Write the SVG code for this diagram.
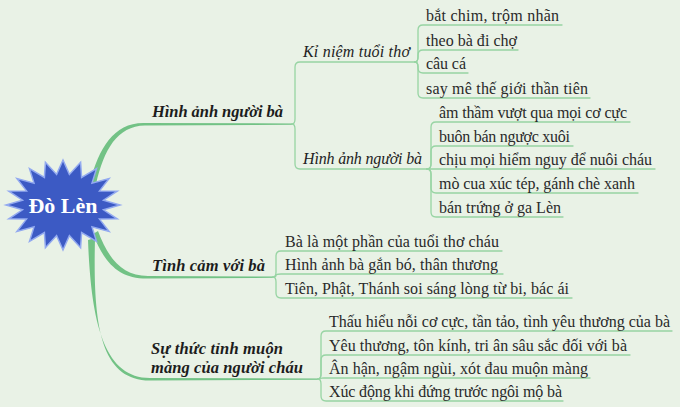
<svg xmlns="http://www.w3.org/2000/svg" width="680" height="407" viewBox="0 0 680 407">
<style>
.main{fill:#72c285;stroke:none}
.thin{fill:none;stroke:#97d4a3;stroke-width:1.3;stroke-linecap:round}
.l1{font-family:"Liberation Serif","Times New Roman",serif;font-size:16.5px;font-weight:bold;font-style:italic;fill:#1c1c1c}
.l2{font-family:"Liberation Serif","Times New Roman",serif;font-size:16px;font-style:italic;fill:#222}
.leaf{font-family:"Liberation Serif","Times New Roman",serif;font-size:16px;fill:#2a2a2a}
.ctext{font-family:"Liberation Serif","Times New Roman",serif;font-size:22px;font-weight:bold;fill:#ffffff}
</style>
<rect x="0" y="0" width="680" height="407" fill="#e9f2e6"/>
<g id="connectors">
<path class="main" d="M90,182 C99,148 114,122 145,123 L292,123.4 L292,124.7 L145,125.6 C117,126 104,150 96,184 Z"/>
<path class="main" d="M98,231 C108,258 122,276 148,276 L273,276.5 L273,277.8 L148,278.6 C118,279 104,262 93,234 Z"/>
<path class="main" d="M88,240 C91,320 103,378 150,378 L318,378.5 L318,379.8 L150,380.6 C99,380 93,322 95,238 Z"/>
<path class="thin" d="M292,124 Q295,124 295,119 L295,67 Q295,62 300,62 L415,62"/>
<path class="thin" d="M292,124 Q295,124 295,129 L295,164 Q295,169 300,169 L427,169"/>
<path class="thin" d="M415,62 Q418,62 418,57 L418,30 Q418,25 423,25 L562,25"/>
<path class="thin" d="M415,62 Q418,62 418,57 L418,55 Q418,50 423,50 L518,50"/>
<path class="thin" d="M415,62 Q418,62 418,67 L418,68 Q418,73 423,73 L468,73"/>
<path class="thin" d="M415,62 Q418,62 418,67 L418,93 Q418,98 423,98 L590,98"/>
<path class="thin" d="M427,169 Q431,169 431,164 L431,127 Q431,122 436,122 L630,122"/>
<path class="thin" d="M427,169 Q431,169 431,164 L431,151 Q431,146 436,146 L573,146"/>
<path class="thin" d="M427,169 L655,169"/>
<path class="thin" d="M427,169 Q431,169 431,174 L431,188 Q431,193 436,193 L638,193"/>
<path class="thin" d="M427,169 Q431,169 431,174 L431,212 Q431,217 436,217 L563,217"/>
<path class="thin" d="M273,277 Q276,277 276,272 L276,256 Q276,251 281,251 L502,251"/>
<path class="thin" d="M273,277 Q276,277 276,275.5 Q276,274 281,274 L503,274"/>
<path class="thin" d="M273,277 Q276,277 276,282 L276,293 Q276,298 281,298 L572,298"/>
<path class="thin" d="M318,379 Q321,379 321,374 L321,336 Q321,331 326,331 L672,331"/>
<path class="thin" d="M318,379 Q321,379 321,374 L321,360 Q321,355 326,355 L630,355"/>
<path class="thin" d="M318,379 Q321,379 321,378.5 Q321,378 324,378 L590,378"/>
<path class="thin" d="M318,379 Q321,379 321,384 L321,396 Q321,401 326,401 L563,401"/>
</g>
<g id="center">
<polygon points="63,160 69.4,174.4 80.6,162.2 81.6,177.4 96.5,168.6 92,183.1 109.1,178.5 99.5,190.9 117.2,191.1 103.5,200.2 120,205 103.5,209.8 117.2,218.9 99.5,219.1 109.1,231.5 92,226.9 96.5,241.4 81.6,232.6 80.6,247.8 69.4,235.6 63,250 56.6,235.6 45.4,247.8 44.4,232.6 29.5,241.4 34,226.9 16.9,231.5 26.5,219.1 8.8,218.9 22.5,209.8 6,205 22.5,200.2 8.8,191.1 26.5,190.9 16.9,178.5 34,183.1 29.5,168.6 44.4,177.4 45.4,162.2 56.6,174.4" fill="#3c5ac4" stroke="#93aaf0" stroke-width="1.5" stroke-linejoin="miter"/>
<text class="ctext" x="63" y="213" text-anchor="middle">Đò Lèn</text>
</g>
<g id="n-hinh-anh">
<text class="l1" x="152" y="117" textLength="131">Hình ảnh người bà</text>
</g>
<g id="n-ki-niem">
<text class="l2" x="303" y="57" textLength="107">Kỉ niệm tuổi thơ</text>
</g>
<g id="n-ki-niem-leaves">
<text class="leaf" x="426" y="21" textLength="133">bắt chim, trộm nhãn</text>
<text class="leaf" x="426" y="46" textLength="91">theo bà đi chợ</text>
<text class="leaf" x="426" y="69" textLength="40">câu cá</text>
<text class="leaf" x="426" y="94" textLength="162">say mê thế giới thần tiên</text>
</g>
<g id="n-hinh-anh-2">
<text class="l2" x="303" y="164" textLength="119">Hình ảnh người bà</text>
</g>
<g id="n-hinh-anh-2-leaves">
<text class="leaf" x="439" y="117.5" textLength="188">âm thầm vượt qua mọi cơ cực</text>
<text class="leaf" x="439" y="141.5" textLength="131">buôn bán ngược xuôi</text>
<text class="leaf" x="439" y="164.5" textLength="213">chịu mọi hiểm nguy để nuôi cháu</text>
<text class="leaf" x="439" y="188.5" textLength="196">mò cua xúc tép, gánh chè xanh</text>
<text class="leaf" x="439" y="212.5" textLength="122">bán trứng ở ga Lèn</text>
</g>
<g id="n-tinh-cam">
<text class="l1" x="152" y="271" textLength="113">Tình cảm với bà</text>
</g>
<g id="n-tinh-cam-leaves">
<text class="leaf" x="285" y="247" textLength="214">Bà là một phần của tuổi thơ cháu</text>
<text class="leaf" x="285" y="270" textLength="213">Hình ảnh bà gắn bó, thân thương</text>
<text class="leaf" x="285" y="294" textLength="284">Tiên, Phật, Thánh soi sáng lòng từ bi, bác ái</text>
</g>
<g id="n-su-thuc-tinh">
<text class="l1" x="151" y="354" textLength="132">Sự thức tỉnh muộn</text>
<text class="l1" x="151" y="373" textLength="152">màng của người cháu</text>
</g>
<g id="n-su-thuc-tinh-leaves">
<text class="leaf" x="329" y="327" textLength="341">Thấu hiểu nỗi cơ cực, tần tảo, tình yêu thương của bà</text>
<text class="leaf" x="329" y="351" textLength="298">Yêu thương, tôn kính, tri ân sâu sắc đối với bà</text>
<text class="leaf" x="329" y="374" textLength="259">Ân hận, ngậm ngùi, xót đau muộn màng</text>
<text class="leaf" x="329" y="397" textLength="233">Xúc động khi đứng trước ngôi mộ bà</text>
</g>
</svg>
